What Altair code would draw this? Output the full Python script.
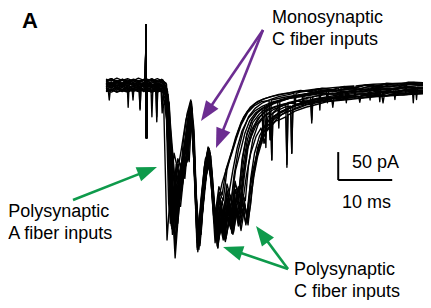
import math
import altair as alt
import pandas as pd

# ---------------- data: whole-cell current traces (time in ms, current in pA) ----------------
tr01 = [(0,6),(0.9,2),(1.9,8),(2.9,4),(3.9,9),(4.9,3),(5.9,7),(6.8,2),(7.3,5),(7.4,109),(7.5,-93),(7.6,4),(8.5,8),(9.4,2),(10.3,6),(11.0,0),(11.6,-60),(12.2,-200),(12.8,-307),(13.4,-230),(14.2,-140),(15.0,-70),(15.7,-27),(16.3,-90),(16.9,-292),(17.5,-240),(18.3,-150),(19.1,-112),(19.8,-190),(20.6,-286),(21.3,-215),(22.0,-258),(22.8,-190),(23.5,-150),(24.3,-110),(25.2,-80),(26.3,-58),(27.5,-45),(29.0,-36),(31.0,-28),(33.0,-24),(35.0,-20),(37.5,-17),(40.0,-13),(42.5,-14),(44.3,-10),(44.5,-30),(44.7,-10),(45.0,-9),(47.5,-11),(50.0,-6),(52.5,-8),(53.3,-6),(53.5,-24),(53.7,-6),(55.0,-3),(58.7,-5)]
tr02 = [(0,-6),(0.4,-6),(0.6,-25),(0.8,-7),(2.0,-3),(3.0,-9),(4.0,-4),(5.0,-10),(6.0,-5),(6.9,-8),(7.3,-6),(7.4,109),(7.5,-93),(7.6,-7),(8.5,-3),(9.4,-9),(10.2,-5),(10.7,-40),(11.3,-275),(11.9,-190),(12.6,-120),(13.3,-150),(14.0,-110),(14.8,-60),(15.6,-35),(16.2,-120),(16.9,-280),(17.6,-200),(18.4,-130),(19.2,-118),(20.1,-240),(20.9,-200),(21.5,-173),(22.4,-145),(23.3,-120),(24.1,-95),(25.0,-70),(26.2,-48),(27.5,-35),(28.8,-28),(30.2,-26),(30.4,-96),(30.6,-25),(33.0,-20),(35.5,-16),(38.0,-13),(40.5,-10),(43.0,-8),(45.5,-5),(48.0,-7),(50.5,-3),(53.0,-5),(55.5,-1),(58.7,-3)]
tr03 = [(0,10),(1.0,13),(2.0,7),(3.0,12),(3.9,9),(4.1,-38),(4.3,9),(5.2,12),(6.2,8),(7.3,11),(7.4,109),(7.5,-93),(7.6,10),(8.5,12),(9.5,7),(10.5,11),(11.4,-10),(11.9,-120),(12.4,-237),(13.0,-160),(13.6,-190),(14.4,-120),(15.1,-60),(15.8,-30),(16.4,-140),(17.0,-296),(17.6,-210),(18.3,-140),(19.0,-110),(19.6,-160),(20.3,-260),(21.0,-200),(21.7,-245),(22.4,-185),(23.2,-230),(23.9,-170),(24.6,-205),(25.4,-140),(26.2,-95),(27.2,-65),(28.4,-50),(29.6,-40),(31.0,-32),(33.0,-25),(35.0,-18),(36.3,-16),(36.5,-35),(36.7,-15),(37.5,-13),(40.0,-8),(42.5,-9),(45.0,-4),(47.5,-6),(48.7,-5),(48.9,-25),(49.1,-4),(50.0,0),(52.5,-2),(55.0,3),(58.7,1)]
tr04 = [(0,0),(0.9,-4),(1.9,2),(2.9,-3),(3.9,1),(4.8,-2),(5.0,-25),(5.2,-1),(6.1,2),(6.3,-43),(6.5,0),(7.3,-1),(7.4,109),(7.5,-93),(7.6,0),(8.5,-3),(9.4,1),(10.4,-2),(11.7,-30),(12.4,-180),(13.0,-265),(13.6,-200),(14.2,-150),(14.6,-165),(15.2,-100),(15.9,-45),(16.5,-150),(17.2,-285),(17.9,-210),(18.6,-150),(19.3,-128),(20.0,-210),(20.7,-289),(21.4,-230),(22.0,-262),(22.7,-215),(23.3,-263),(24.0,-220),(24.6,-245),(25.3,-205),(25.9,-248),(26.5,-200),(27.0,-180),(27.8,-132),(28.9,-84),(29.8,-62),(30.5,-60),(30.7,-132),(30.9,-56),(32.5,-45),(34.0,-38),(35.5,-32),(38.0,-25),(40.5,-20),(43.0,-16),(45.5,-12),(48.0,-13),(50.5,-9),(53.0,-10),(55.5,-6),(58.7,-7)]
tr05 = [(0,3),(1.0,7),(2.0,0),(3.0,5),(4.0,1),(5.0,6),(6.0,2),(7.0,5),(7.3,3),(7.4,109),(7.5,-93),(7.6,3),(8.3,5),(8.5,-55),(8.7,2),(9.2,3),(9.4,-64),(9.6,3),(10.4,0),(11.2,-20),(11.8,-150),(12.5,-250),(13.1,-180),(13.8,-200),(14.6,-145),(15.2,-130),(15.8,-50),(16.4,-160),(17.1,-270),(17.8,-190),(18.5,-135),(19.1,-115),(19.8,-200),(20.5,-265),(21.2,-210),(21.9,-250),(22.6,-200),(23.4,-255),(24.1,-195),(24.8,-230),(25.5,-170),(26.3,-110),(27.3,-75),(28.5,-55),(29.8,-42),(31.5,-36),(33.3,-32),(33.5,-145),(33.7,-30),(35.5,-26),(38.0,-20),(40.5,-14),(43.0,-15),(45.5,-9),(48.0,-10),(50.5,-5),(53.0,-7),(55.5,-2),(58.7,-4)]
tr06 = [(0,-9),(1.0,-5),(2.0,-11),(3.0,-6),(4.0,-10),(5.0,-4),(6.0,-9),(7.0,-6),(7.3,-8),(7.4,109),(7.5,-93),(7.6,-8),(8.6,-11),(9.5,-6),(10.2,-8),(10.4,-48),(10.6,-10),(11.2,-60),(11.6,-210),(12.1,-250),(12.7,-170),(13.3,-130),(14.0,-150),(14.8,-90),(15.7,-40),(16.3,-110),(16.8,-250),(17.4,-280),(18.0,-200),(18.8,-140),(19.4,-125),(20.1,-215),(20.8,-250),(21.5,-205),(22.3,-245),(23.0,-195),(23.7,-235),(24.5,-180),(25.2,-215),(26.0,-160),(26.8,-120),(27.8,-90),(28.7,-75),(29.4,-102),(30.0,-55),(31.5,-45),(33.0,-38),(34.2,-36),(34.4,-120),(34.6,-35),(36.5,-30),(37.9,-27),(38.1,-66),(38.3,-26),(40.5,-22),(43.0,-18),(45.5,-14),(48.0,-15),(50.5,-11),(53.0,-12),(55.5,-8),(58.7,-9)]
tr07 = [(0,12),(1.0,9),(2.0,14),(3.0,10),(4.0,13),(5.0,9),(6.0,14),(7.0,10),(7.3,12),(7.4,109),(7.5,-93),(7.6,12),(8.5,9),(9.5,13),(10.4,9),(11.1,5),(11.6,-80),(12.0,-170),(12.6,-215),(13.2,-140),(13.7,-175),(14.3,-100),(15.0,-50),(15.7,-25),(16.3,-100),(16.9,-260),(17.5,-235),(18.2,-160),(18.9,-109),(19.6,-170),(20.2,-230),(20.9,-180),(21.5,-195),(22.2,-150),(23.0,-125),(23.7,-105),(24.5,-80),(25.5,-55),(26.7,-38),(28.0,-28),(29.5,-22),(31.0,-18),(33.0,-14),(35.0,-11),(37.0,-8),(39.4,-5),(39.6,-43),(39.8,-5),(42.0,-3),(44.5,-1),(45.9,0),(46.1,-22),(46.3,0),(47.0,1),(49.5,3),(52.0,4),(54.5,5),(55.3,5),(55.5,-15),(55.7,6),(57.0,7),(58.7,6)]
tr08 = [(0,2),(1.0,-2),(2.0,4),(3.0,-1),(4.0,5),(5.0,0),(6.0,4),(7.0,-1),(7.3,2),(7.4,109),(7.5,-93),(7.6,2),(8.5,-1),(9.1,3),(9.4,-20),(9.7,2),(10.6,-1),(11.5,-25),(12.0,-90),(12.5,-150),(13.3,-245),(13.9,-180),(14.5,-150),(15.2,-128),(15.8,-35),(16.5,-170),(17.2,-265),(17.8,-220),(18.5,-160),(19.2,-140),(19.9,-230),(20.6,-275),(21.3,-235),(22.0,-270),(22.7,-225),(23.3,-250),(24.0,-205),(24.7,-240),(25.4,-195),(26.2,-240),(26.8,-175),(27.4,-150),(28.1,-110),(28.9,-90),(29.8,-70),(30.2,-68),(30.4,-96),(30.6,-62),(32.0,-50),(33.5,-42),(35.0,-35),(37.0,-30),(39.0,-27),(41.8,-24),(42.0,-38),(42.2,-22),(45.0,-20),(46.8,-19),(47.0,-29),(47.2,-18),(50.0,-16),(52.0,-18),(54.5,-13),(57.0,-14),(58.7,-12)]
tr09 = [(0,-3),(1.0,1),(2.0,-5),(3.0,0),(4.0,-6),(5.0,-1),(6.0,-5),(7.0,0),(7.3,-3),(7.4,109),(7.5,-93),(7.6,-3),(8.5,0),(9.4,-5),(10.3,-1),(11.3,-15),(12.0,-130),(12.8,-290),(13.4,-210),(14.1,-150),(14.8,-130),(15.5,-60),(15.9,-40),(16.5,-180),(17.0,-285),(17.7,-230),(18.4,-170),(19.1,-130),(19.7,-200),(20.4,-270),(21.1,-245),(21.7,-275),(22.4,-230),(23.1,-255),(23.8,-210),(24.5,-250),(25.2,-220),(25.9,-245),(26.6,-185),(27.2,-150),(28.0,-120),(28.9,-95),(30.0,-75),(30.7,-70),(31.5,-60),(32.4,-52),(33.5,-45),(34.2,-44),(34.4,-120),(34.6,-42),(36.0,-36),(38.0,-30),(40.0,-27),(42.0,-22),(44.0,-24),(46.0,-19),(48.0,-20),(50.0,-16),(52.0,-17),(54.0,-12),(56.0,-15),(58.7,-11)]
tr10 = [(0,8),(1.0,4),(2.0,10),(3.0,5),(4.0,11),(5.0,6),(6.0,10),(7.0,6),(7.3,8),(7.4,109),(7.5,-93),(7.6,8),(8.5,5),(9.4,10),(10.4,5),(11.0,0),(11.6,-140),(12.2,-255),(12.8,-200),(13.4,-150),(14.2,-165),(15.0,-80),(15.7,-30),(16.3,-120),(16.8,-275),(17.4,-250),(18.0,-180),(18.8,-118),(19.5,-150),(20.2,-245),(20.9,-190),(21.7,-230),(22.4,-175),(23.2,-205),(24.0,-150),(24.8,-120),(25.7,-85),(26.6,-62),(27.7,-48),(28.9,-40),(29.1,-102),(29.3,-40),(30.5,-32),(32.0,-27),(34.0,-21),(36.0,-17),(38.0,-14),(40.0,-10),(40.8,-10),(41.0,-30),(41.2,-10),(42.0,-11),(44.0,-6),(46.0,-8),(48.0,-3),(50.0,-5),(50.5,-4),(50.7,-28),(50.9,-3),(52.0,0),(54.0,-2),(56.0,3),(58.7,1)]
tr11 = [(0,-10),(1.0,-7),(2.0,-11),(3.0,-8),(4.0,-11),(5.0,-7),(6.0,-10),(7.0,-7),(7.3,-10),(7.4,109),(7.5,-93),(7.6,-10),(8.5,-7),(9.4,-11),(10.4,-8),(11.4,-20),(12.0,-110),(12.6,-175),(13.2,-210),(13.8,-160),(14.4,-125),(15.3,-70),(15.9,-55),(16.6,-200),(17.3,-275),(18.0,-205),(18.7,-145),(19.3,-135),(20.0,-240),(20.7,-280),(21.4,-250),(22.1,-278),(22.8,-240),(23.5,-265),(24.2,-225),(24.9,-245),(25.6,-205),(26.3,-248),(26.9,-195),(27.4,-160),(28.1,-125),(29.0,-95),(29.8,-80),(30.7,-70),(31.5,-62),(32.2,-60),(33.3,-55),(33.5,-140),(33.7,-52),(35.0,-45),(37.0,-38),(39.0,-33),(41.0,-28),(43.0,-26),(45.0,-24),(47.0,-22),(49.0,-20),(51.1,-18),(51.3,-30),(51.5,-18),(53.5,-17),(56.0,-15),(58.7,-14)]
tr12 = [(0,5),(1.0,1),(2.0,7),(3.0,2),(4.0,7),(5.0,3),(6.1,6),(6.3,-40),(6.5,5),(7.3,5),(7.4,109),(7.5,-93),(7.6,5),(8.5,1),(9.2,6),(9.4,-55),(9.6,4),(10.5,2),(11.3,-10),(11.9,-100),(12.5,-200),(13.0,-230),(13.6,-170),(14.3,-140),(15.0,-100),(15.7,-30),(16.4,-130),(17.1,-290),(17.8,-225),(18.5,-150),(19.2,-115),(19.9,-210),(20.7,-289),(21.3,-240),(22.0,-261),(22.6,-205),(23.3,-240),(24.0,-185),(24.7,-215),(25.4,-155),(26.1,-115),(26.9,-90),(27.8,-70),(28.8,-58),(30.0,-50),(30.5,-50),(30.7,-132),(30.9,-48),(32.0,-38),(33.5,-32),(35.5,-26),(37.5,-20),(37.9,-20),(38.1,-60),(38.3,-19),(41.0,-15),(43.5,-12),(46.0,-10),(48.5,-8),(51.0,-6),(53.5,-4),(56.0,-3),(56.7,-3),(56.9,-30),(57.1,-3),(58.7,-2)]
tr13 = [(0,1),(0.9,5),(1.9,-2),(2.9,4),(3.9,-1),(4.9,5),(5.9,-2),(6.9,3),(7.3,1),(7.4,109),(7.5,-93),(7.6,1),(8.4,4),(9.3,-2),(10.2,3),(11.0,-5),(11.5,-90),(12.0,-230),(12.6,-180),(13.1,-205),(13.8,-140),(14.6,-120),(15.4,-55),(15.8,-32),(16.4,-150),(17.0,-275),(17.6,-225),(18.3,-165),(19.0,-120),(19.7,-195),(20.4,-255),(21.1,-215),(21.8,-250),(22.5,-205),(23.2,-235),(23.9,-185),(24.5,-200),(25.2,-130),(26.0,-90),(27.0,-62),(28.2,-45),(29.5,-36),(31.0,-30),(31.8,-28),(32.0,-75),(32.2,-27),(32.5,-26),(34.0,-22),(36.0,-19),(38.0,-15),(40.0,-12),(42.0,-14),(44.0,-9),(46.0,-11),(48.0,-6),(50.0,-8),(52.0,-4),(54.0,-6),(56.0,-1),(57.3,-2),(57.5,-24),(57.7,-2),(58.7,-3)]
tr14 = [(0,-6),(1.0,-2),(2.0,-8),(3.0,-3),(4.0,-9),(5.0,-4),(6.0,-8),(7.0,-3),(7.3,-6),(7.4,109),(7.5,-93),(7.6,-6),(8.5,-2),(9.4,-8),(10.3,-4),(11.2,-30),(11.8,-180),(12.3,-265),(12.9,-210),(13.5,-160),(14.2,-135),(14.9,-110),(15.6,-40),(16.2,-100),(16.8,-265),(17.4,-285),(18.1,-195),(18.8,-125),(19.5,-175),(20.2,-280),(20.9,-225),(21.6,-265),(22.3,-220),(23.0,-250),(23.7,-200),(24.4,-235),(25.1,-190),(25.8,-205),(26.4,-140),(27.2,-95),(28.2,-68),(29.5,-52),(31.0,-42),(32.5,-36),(34.0,-31),(35.5,-27),(37.0,-28),(39.0,-22),(41.0,-23),(43.0,-18),(45.0,-19),(47.0,-14),(49.0,-15),(51.0,-11),(53.0,-12),(55.0,-8),(58.7,-9)]
tr15 = [(0,9),(1.0,13),(2.0,8),(3.0,12),(4.0,7),(5.0,12),(6.0,8),(7.0,12),(7.3,9),(7.4,109),(7.5,-93),(7.6,9),(8.5,13),(9.4,8),(10.3,12),(11.2,3),(11.8,-110),(12.4,-190),(13.0,-245),(13.6,-180),(14.4,-130),(15.2,-75),(15.8,-28),(16.3,-80),(16.9,-250),(17.6,-265),(18.3,-170),(19.0,-112),(19.6,-150),(20.3,-240),(21.0,-205),(21.7,-235),(22.4,-200),(23.1,-215),(23.7,-160),(24.5,-115),(25.4,-80),(26.4,-55),(27.6,-40),(29.0,-30),(30.5,-24),(32.0,-19),(34.0,-15),(34.8,-13),(35.0,-40),(35.2,-13),(36.0,-11),(38.0,-8),(40.0,-4),(42.0,-6),(44.0,-1),(46.0,-3),(48.0,2),(50.0,0),(52.0,5),(54.0,3),(56.0,7),(58.7,5)]
tr16 = [(0,-2),(1.0,2),(2.0,-4),(3.0,1),(4.0,-5),(5.0,0),(6.0,-4),(7.0,1),(7.3,-2),(7.4,109),(7.5,-93),(7.6,-2),(8.5,2),(9.4,-4),(10.3,0),(11.1,-10),(11.7,-120),(12.3,-215),(12.9,-250),(13.5,-190),(14.1,-140),(14.9,-125),(15.5,-60),(15.9,-45),(16.6,-220),(17.2,-292),(17.9,-215),(18.6,-140),(19.3,-120),(20.0,-225),(20.7,-270),(21.4,-240),(22.1,-275),(22.8,-235),(23.5,-258),(24.2,-215),(24.9,-250),(25.6,-210),(26.2,-235),(26.8,-165),(27.5,-120),(28.4,-90),(29.5,-70),(30.8,-56),(32.0,-48),(33.5,-42),(35.0,-36),(37.0,-31),(39.0,-27),(41.0,-24),(43.0,-20),(45.0,-17),(47.0,-18),(49.0,-13),(51.0,-14),(53.0,-10),(55.0,-11),(58.7,-8)]
tr17 = [(0,4),(1.0,0),(2.0,6),(3.0,1),(4.0,6),(5.0,2),(6.0,7),(7.0,2),(7.3,4),(7.4,109),(7.5,-93),(7.6,4),(8.5,0),(9.4,6),(10.3,1),(11.0,-3),(11.5,-120),(11.9,-245),(12.4,-205),(13.0,-140),(13.6,-165),(14.4,-110),(15.1,-70),(15.7,-28),(16.3,-110),(16.9,-288),(17.5,-220),(18.2,-145),(18.9,-111),(19.5,-165),(20.3,-250),(21.0,-190),(21.7,-205),(22.4,-150),(23.2,-120),(24.0,-92),(25.0,-65),(26.2,-45),(27.5,-32),(29.0,-24),(30.5,-19),(32.0,-15),(34.0,-12),(36.0,-8),(38.0,-10),(40.0,-5),(42.0,-7),(43.1,-5),(43.3,-25),(43.5,-4),(44.0,-2),(46.0,-4),(48.0,1),(50.0,-1),(52.0,3),(54.0,1),(56.0,5),(58.7,3)]
tr18 = [(0,-8),(1.0,-11),(2.0,-5),(3.0,-10),(4.0,-4),(5.0,-9),(6.0,-4),(7.0,-10),(7.3,-8),(7.4,109),(7.5,-93),(7.6,-8),(8.5,-11),(9.4,-5),(10.3,-10),(11.0,-15),(11.6,-130),(12.3,-220),(12.9,-275),(13.5,-200),(14.2,-160),(15.0,-120),(15.4,-135),(15.9,-50),(16.5,-170),(17.1,-280),(17.8,-230),(18.5,-155),(19.2,-125),(19.9,-220),(20.6,-262),(21.3,-225),(22.0,-268),(22.7,-215),(23.4,-245),(24.1,-200),(24.8,-225),(25.4,-165),(26.1,-110),(27.0,-78),(28.1,-58),(29.4,-46),(30.8,-40),(32.3,-34),(33.9,-30),(35.5,-33),(37.0,-25),(39.0,-27),(41.0,-21),(43.0,-23),(45.0,-17),(47.0,-19),(49.0,-14),(51.0,-16),(53.0,-11),(55.0,-13),(58.7,-10)]
tr19 = [(0,7),(1.0,11),(2.0,5),(3.0,10),(4.0,4),(5.0,9),(6.0,5),(7.0,10),(7.3,7),(7.4,109),(7.5,-93),(7.6,7),(8.5,10),(9.4,4),(10.3,9),(11.3,-5),(12.0,-150),(12.6,-235),(13.2,-195),(13.8,-215),(14.5,-150),(15.3,-90),(15.8,-35),(16.4,-130),(17.0,-270),(17.6,-255),(18.3,-175),(19.0,-115),(19.7,-180),(20.4,-245),(21.1,-200),(21.8,-240),(22.5,-190),(23.2,-225),(23.9,-175),(24.6,-190),(25.3,-130),(26.1,-85),(27.0,-62),(28.0,-48),(29.3,-38),(29.4,-37),(29.6,-110),(29.8,-36),(30.8,-30),(32.5,-24),(34.5,-19),(36.5,-15),(38.5,-11),(40.5,-8),(42.5,-9),(44.5,-4),(46.5,-6),(48.5,-1),(50.5,-3),(52.5,2),(54.5,0),(56.5,4),(58.7,3)]
tr20 = [(0,-4),(1.0,-8),(2.0,-2),(3.0,-7),(4.0,-1),(5.0,-6),(6.0,-1),(7.0,-6),(7.3,-4),(7.4,109),(7.5,-93),(7.6,-4),(8.5,-8),(9.4,-2),(10.3,-7),(11.5,-15),(12.1,-90),(12.7,-160),(13.3,-225),(13.9,-190),(14.6,-150),(15.3,-110),(15.9,-60),(16.6,-190),(17.3,-265),(18.0,-215),(18.7,-150),(19.4,-140),(20.1,-245),(20.8,-275),(21.5,-245),(22.2,-272),(22.9,-235),(23.6,-262),(24.3,-220),(25.0,-258),(25.7,-215),(26.3,-240),(26.8,-210),(27.3,-160),(28.0,-118),(28.9,-88),(30.0,-70),(31.3,-58),(32.5,-51),(34.0,-45),(35.5,-40),(37.0,-34),(39.0,-30),(41.0,-27),(43.0,-24),(45.0,-21),(47.0,-22),(49.0,-18),(51.0,-19),(53.0,-15),(55.0,-16),(58.7,-13)]

traces = {"tr01": tr01, "tr02": tr02, "tr03": tr03, "tr04": tr04, "tr05": tr05, "tr06": tr06,
          "tr07": tr07, "tr08": tr08, "tr09": tr09, "tr10": tr10, "tr11": tr11, "tr12": tr12,
          "tr13": tr13, "tr14": tr14, "tr15": tr15, "tr16": tr16, "tr17": tr17, "tr18": tr18,
          "tr19": tr19, "tr20": tr20}

# scale bar (10 ms, 50 pA)
scalebar_origin = (43.0, -168.0)
scalebar_ms = 10
scalebar_pa = 50

# annotation labels (time ms, current pA)
label_texts = ["Monosynaptic", "C fiber inputs", "Polysynaptic", "A fiber inputs",
               "Polysynaptic", "C fiber inputs", "50 pA", "10 ms"]
label_t = [30.74, 30.74, -18.1, -18.1, 34.8, 34.8, 45.56, 43.7]
label_i = [112.5, 73.2, -234.0, -273.3, -337.6, -376.8, -146.5, -217.9]

panel_letter = "A"
panel_t, panel_i = -14.07, 103.6

# arrows: (tail, tip, colour)
arrows = [
    ((29.07, 100.0), (17.59, -62.5), "#6c2d91"),
    ((29.07, 100.0), (20.37, -110.7), "#6c2d91"),
    ((-6.11, -203.6), (9.44, -144.7), "#0e9a4b"),
    ((33.70, -326.8), (21.67, -287.5), "#0e9a4b"),
    ((33.70, -326.8), (27.78, -250.0), "#0e9a4b"),
]

# ---------------- layout ----------------
W, H = 415, 292
X_DOMAIN = [-18.15, 58.7]
Y_DOMAIN = [-382.2, 139.3]
kx = W / (X_DOMAIN[1] - X_DOMAIN[0])
ky = H / (Y_DOMAIN[1] - Y_DOMAIN[0])
FONT = "Liberation Sans"

xs = alt.Scale(domain=X_DOMAIN, nice=False, zero=False)
ys = alt.Scale(domain=Y_DOMAIN, nice=False, zero=False)

rows = []
for name, pts in traces.items():
    for k, (t, i) in enumerate(pts):
        rows.append({"trace": name, "t": t, "I": i, "k": k})
df = pd.DataFrame(rows)

lines = alt.Chart(df).mark_line(color="black", strokeWidth=1.4, strokeJoin="round", clip=True).encode(
    x=alt.X("t:Q", scale=xs, axis=None),
    y=alt.Y("I:Q", scale=ys, axis=None),
    detail="trace:N",
    order="k:Q",
)

# scale bar
t0, i0 = scalebar_origin
sb = pd.DataFrame([
    {"t": t0, "I": i0, "t2": t0 + scalebar_ms, "I2": i0},
    {"t": t0, "I": i0, "t2": t0, "I2": i0 + scalebar_pa},
])
scalebar = alt.Chart(sb).mark_rule(color="black", strokeWidth=2).encode(
    x=alt.X("t:Q", scale=xs, axis=None), y=alt.Y("I:Q", scale=ys, axis=None),
    x2="t2:Q", y2="I2:Q")

# arrows
shaft_rows, head_rows = [], []
for tail, tip, col in arrows:
    dx = (tip[0] - tail[0]) * kx
    dy = -(tip[1] - tail[1]) * ky
    L = math.hypot(dx, dy)
    ux, uy = dx / L, dy / L
    back = 12.0
    end_t = tip[0] - ux * back / kx
    end_i = tip[1] + uy * back / ky
    shaft_rows.append({"t": tail[0], "I": tail[1], "t2": end_t, "I2": end_i, "col": col})
    ang = math.degrees(math.atan2(ux, -uy)) % 360
    head_rows.append({"t": tip[0], "I": tip[1], "ang": ang, "col": col})

shafts = alt.Chart(pd.DataFrame(shaft_rows)).mark_rule(strokeWidth=2.6).encode(
    x=alt.X("t:Q", scale=xs, axis=None), y=alt.Y("I:Q", scale=ys, axis=None),
    x2="t2:Q", y2="I2:Q", color=alt.Color("col:N", scale=None))

heads = alt.Chart(pd.DataFrame(head_rows)).mark_point(
    shape="M0,0L0.75,2L-0.75,2Z", filled=True, size=400, opacity=1, strokeWidth=0).encode(
    x=alt.X("t:Q", scale=xs, axis=None), y=alt.Y("I:Q", scale=ys, axis=None),
    angle=alt.Angle("ang:Q", scale=None), color=alt.Color("col:N", scale=None))

labels = alt.Chart(pd.DataFrame({"t": label_t, "I": label_i, "txt": label_texts})).mark_text(
    align="left", baseline="alphabetic", font=FONT, fontSize=18, color="black").encode(
    x=alt.X("t:Q", scale=xs, axis=None), y=alt.Y("I:Q", scale=ys, axis=None), text="txt:N")

letter = alt.Chart(pd.DataFrame({"t": [panel_t], "I": [panel_i], "txt": [panel_letter]})).mark_text(
    align="center", baseline="alphabetic", font=FONT, fontSize=22, fontWeight="bold", color="black").encode(
    x=alt.X("t:Q", scale=xs, axis=None), y=alt.Y("I:Q", scale=ys, axis=None), text="txt:N")

chart = alt.layer(lines, scalebar, shafts, heads, labels, letter).properties(
    width=W, height=H, padding=0, autosize=alt.AutoSizeParams(type="none")
).configure_view(stroke=None)

chart.save("out.html", embed_options={"renderer": "svg", "actions": False})
